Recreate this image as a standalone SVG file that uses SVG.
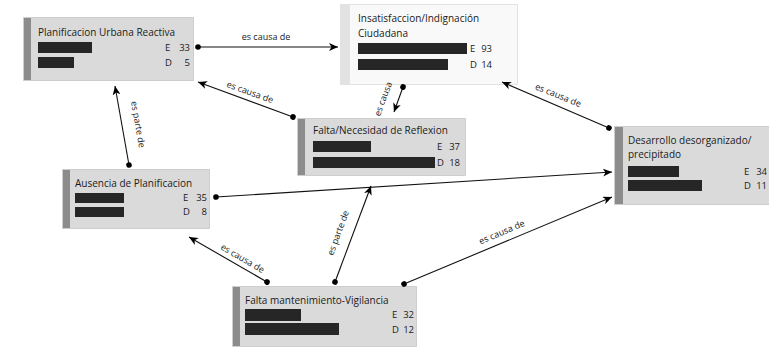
<svg xmlns="http://www.w3.org/2000/svg" width="769" height="350" viewBox="0 0 769 350">
<defs>
<style>
.box{fill:#dadada;stroke:#b0b0b0;stroke-width:1;stroke-dasharray:1 1}
.box.light{fill:#f9f9f9;stroke:#c8c8c8}
.stripe{fill:#8c8c8c}
.stripe.light{fill:#e2e2e2}
.bar{fill:#262626}
.title{font-family:"Open Sans","Noto Sans",sans-serif;font-size:10px;fill:#1a1a1a}
.val{font-family:"Open Sans","Noto Sans",sans-serif;font-size:9.5px;fill:#1a1a1a}
.num{font-family:"Open Sans","Noto Sans",sans-serif;font-size:9.5px;fill:#1a1a1a;text-anchor:end}
.lbl{font-family:"Open Sans","Noto Sans",sans-serif;font-size:9px;fill:#1a1a1a;text-anchor:middle}
.con{fill:none;stroke:#111;stroke-width:1.1;marker-start:url(#dot);marker-end:url(#arr)}
</style>
<marker id="dot" markerUnits="userSpaceOnUse" markerWidth="8" markerHeight="8" refX="4" refY="4" orient="auto"><circle cx="4" cy="4" r="2.8" fill="#000"/></marker>
<marker id="arr" markerUnits="userSpaceOnUse" markerWidth="10" markerHeight="8" refX="9" refY="4" orient="auto"><path d="M0,0 L9,4 L0,8 L2.5,4 z" fill="#000"/></marker>
</defs>

<g id="n-planificacion-urbana">
<rect class="box" x="23.5" y="17.5" width="170" height="63"/>
<rect class="stripe" x="24" y="18" width="7" height="62"/>
<text class="title" x="38" y="36">Planificacion Urbana Reactiva</text>
<rect class="bar" x="38" y="42" width="54" height="11"/>
<rect class="bar" x="38" y="57" width="36" height="11"/>
<text class="val" x="165" y="51">E</text><text class="num" x="190" y="51">33</text>
<text class="val" x="165" y="66">D</text><text class="num" x="190" y="66">5</text>
</g>

<g id="n-insatisfaccion">
<rect class="box light" x="340.5" y="4.5" width="177" height="80"/>
<rect class="stripe light" x="341" y="5" width="9" height="79"/>
<text class="title" x="358" y="22">Insatisfaccion/Indignación</text>
<text class="title" x="358" y="37">Ciudadana</text>
<rect class="bar" x="358" y="43" width="109" height="11"/>
<rect class="bar" x="358" y="59" width="90" height="11"/>
<text class="val" x="470" y="52">E</text><text class="num" x="492" y="52">93</text>
<text class="val" x="470" y="68">D</text><text class="num" x="492" y="68">14</text>
</g>

<g id="n-falta-reflexion">
<rect class="box" x="297.5" y="118.5" width="168" height="57"/>
<rect class="stripe" x="298" y="119" width="7" height="56"/>
<text class="title" x="313" y="134">Falta/Necesidad de Reflexion</text>
<rect class="bar" x="313" y="141" width="58" height="11"/>
<rect class="bar" x="313" y="157" width="122" height="11"/>
<text class="val" x="437" y="150">E</text><text class="num" x="460" y="150">37</text>
<text class="val" x="437" y="166">D</text><text class="num" x="460" y="166">18</text>
</g>

<g id="n-desarrollo">
<rect class="box" x="614.5" y="126.5" width="156" height="78"/>
<rect class="stripe" x="615" y="127" width="8" height="77"/>
<text class="title" x="628" y="144">Desarrollo desorganizado/</text>
<text class="title" x="628" y="158">precipitado</text>
<rect class="bar" x="628" y="166" width="51" height="11"/>
<rect class="bar" x="628" y="180" width="74" height="11"/>
<text class="val" x="744" y="175">E</text><text class="num" x="767" y="175">34</text>
<text class="val" x="744" y="189">D</text><text class="num" x="767" y="189">11</text>
</g>

<g id="n-ausencia">
<rect class="box" x="62.5" y="169.5" width="147" height="59"/>
<rect class="stripe" x="63" y="170" width="7" height="58"/>
<text class="title" x="75" y="187">Ausencia de Planificacion</text>
<rect class="bar" x="75" y="193" width="49" height="10"/>
<rect class="bar" x="75" y="207" width="49" height="10"/>
<text class="val" x="183" y="201">E</text><text class="num" x="207" y="201">35</text>
<text class="val" x="183" y="215">D</text><text class="num" x="207" y="215">8</text>
</g>

<g id="n-falta-mantenimiento">
<rect class="box" x="232.5" y="286.5" width="184" height="60"/>
<rect class="stripe" x="233" y="287" width="7" height="59"/>
<text class="title" x="245" y="304">Falta mantenimiento-Vigilancia</text>
<rect class="bar" x="245" y="309" width="56" height="12"/>
<rect class="bar" x="245" y="323" width="94" height="12"/>
<text class="val" x="392" y="318">E</text><text class="num" x="414" y="318">32</text>
<text class="val" x="392" y="333">D</text><text class="num" x="414" y="333">12</text>
</g>

<g id="connectors">
<line class="con" x1="198" y1="47" x2="338" y2="47"/>
<text class="lbl" x="266" y="40">es causa de</text>
<line class="con" x1="293" y1="117" x2="198" y2="82"/>
<text class="lbl" transform="translate(249,95) rotate(20)">es causa de</text>
<line class="con" x1="129" y1="165" x2="115" y2="86"/>
<text class="lbl" transform="translate(135,125) rotate(80)">es parte de</text>
<line class="con" x1="403" y1="87" x2="394" y2="112"/>
<text class="lbl" transform="translate(386,100) rotate(-70)">es causa</text>
<line class="con" x1="609" y1="128" x2="502" y2="82"/>
<text class="lbl" transform="translate(557,98) rotate(22)">es causa de</text>
<line class="con" x1="216" y1="197" x2="612" y2="172"/>
<line class="con" x1="267" y1="282" x2="189" y2="237"/>
<text class="lbl" transform="translate(241,261) rotate(30)">es causa de</text>
<line class="con" x1="335" y1="282" x2="371" y2="186"/>
<text class="lbl" transform="translate(341,234) rotate(-70)">es parte de</text>
<line class="con" x1="404" y1="284" x2="612" y2="197"/>
<text class="lbl" transform="translate(503,235) rotate(-23)">es causa de</text>
</g>
</svg>
